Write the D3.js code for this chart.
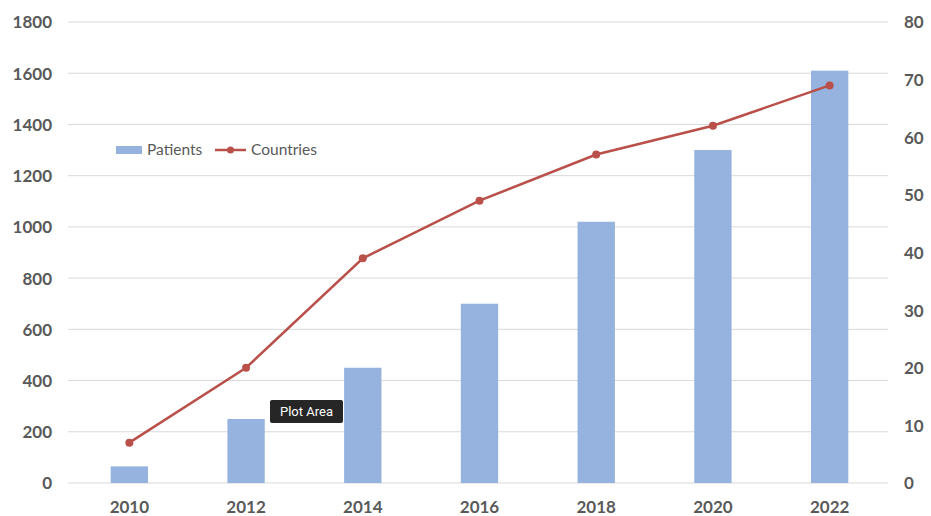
<!DOCTYPE html>
<html>
<head>
<meta charset="utf-8">
<script src="https://cdn.jsdelivr.net/npm/d3@7"></script>
<style>
  body { margin: 0; background: #fff; }
  svg { display: block; font-family: Lato, "Open Sans", sans-serif; }
</style>
</head>
<body>
<svg id="chart" width="931" height="516"></svg>
<script>
var years = ['2010', '2012', '2014', '2016', '2018', '2020', '2022'];
var patients = [65, 250, 450, 700, 1020, 1300, 1610];
var countries = [7, 20, 39, 49, 57, 62, 69];
var leftTicks = [0, 200, 400, 600, 800, 1000, 1200, 1400, 1600, 1800];
var rightTicks = [0, 10, 20, 30, 40, 50, 60, 70, 80];

var svg = d3.select('#chart');
var plotLeft = 71, plotRight = 888, plotTop = 22, plotBottom = 483;

var x = d3.scaleBand().domain(years).range([plotLeft, plotRight]).paddingInner(0.68).paddingOuter(0.34);
var yL = d3.scaleLinear().domain([0, 1800]).range([plotBottom, plotTop]);
var yR = d3.scaleLinear().domain([0, 80]).range([plotBottom, plotTop]);

// gridlines
svg.append('g')
  .selectAll('line')
  .data(leftTicks)
  .enter().append('line')
  .attr('x1', plotLeft - 3)
  .attr('x2', plotRight)
  .attr('y1', function(d) { return yL(d); })
  .attr('y2', function(d) { return yL(d); })
  .attr('stroke', '#d9d9d9')
  .attr('stroke-width', 1);

// left axis
var axisL = svg.append('g')
  .attr('transform', 'translate(52,0)')
  .call(d3.axisLeft(yL).tickValues(leftTicks).tickFormat(d3.format('d')).tickSize(0).tickPadding(0));
axisL.select('.domain').remove();

// right axis
var axisR = svg.append('g')
  .attr('transform', 'translate(904,0)')
  .call(d3.axisRight(yR).tickValues(rightTicks).tickFormat(d3.format('d')).tickSize(0).tickPadding(0));
axisR.select('.domain').remove();

// bottom axis
var axisB = svg.append('g')
  .attr('transform', 'translate(0,' + (plotBottom + 24) + ')')
  .call(d3.axisBottom(x).tickSize(0).tickPadding(0));
axisB.select('.domain').remove();

svg.selectAll('.tick text')
  .attr('fill', '#595959')
  .style('font-size', '17px')
  .style('font-weight', 'bold')
  .attr('font-family', 'Lato, sans-serif')
  .attr('dy', '0.35em');

// bars
svg.append('g')
  .selectAll('rect')
  .data(patients)
  .enter().append('rect')
  .attr('x', function(d, i) { return x(years[i]); })
  .attr('y', function(d) { return yL(d); })
  .attr('width', x.bandwidth())
  .attr('height', function(d) { return plotBottom - yL(d); })
  .attr('fill', '#95b3de');

// line
var line = d3.line()
  .x(function(d, i) { return x(years[i]) + x.bandwidth() / 2; })
  .y(function(d) { return yR(d); });

svg.append('path')
  .datum(countries)
  .attr('d', line)
  .attr('fill', 'none')
  .attr('stroke', '#b9504a')
  .attr('stroke-width', 2.5);

svg.append('g')
  .selectAll('circle')
  .data(countries)
  .enter().append('circle')
  .attr('cx', function(d, i) { return x(years[i]) + x.bandwidth() / 2; })
  .attr('cy', function(d) { return yR(d); })
  .attr('r', 4)
  .attr('fill', '#b9504a');

// legend
var legend = svg.append('g').attr('transform', 'translate(116,150)');
legend.append('rect')
  .attr('x', 0).attr('y', -4)
  .attr('width', 26).attr('height', 8)
  .attr('fill', '#95b3de');
legend.append('text')
  .attr('x', 31).attr('y', 0).attr('dy', '0.35em')
  .attr('fill', '#595959')
  .style('font-size', '15.5px')
  .text('Patients');
legend.append('line')
  .attr('x1', 99).attr('x2', 130)
  .attr('y1', 0).attr('y2', 0)
  .attr('stroke', '#b9504a').attr('stroke-width', 2.5);
legend.append('circle')
  .attr('cx', 114.5).attr('cy', 0).attr('r', 3.5)
  .attr('fill', '#b9504a');
legend.append('text')
  .attr('x', 135).attr('y', 0).attr('dy', '0.35em')
  .attr('fill', '#595959')
  .style('font-size', '15.5px')
  .text('Countries');

// "Plot Area" tooltip
var tip = svg.append('g').attr('transform', 'translate(270,400)');
tip.append('rect')
  .attr('width', 73).attr('height', 23)
  .attr('rx', 2)
  .attr('fill', '#262626');
tip.append('text')
  .attr('x', 36.5).attr('y', 11.5).attr('dy', '0.35em')
  .attr('text-anchor', 'middle')
  .attr('fill', '#fff')
  .style('font-size', '13px')
  .attr('font-family', 'Roboto, sans-serif')
  .text('Plot Area');
</script>
</body>
</html>
